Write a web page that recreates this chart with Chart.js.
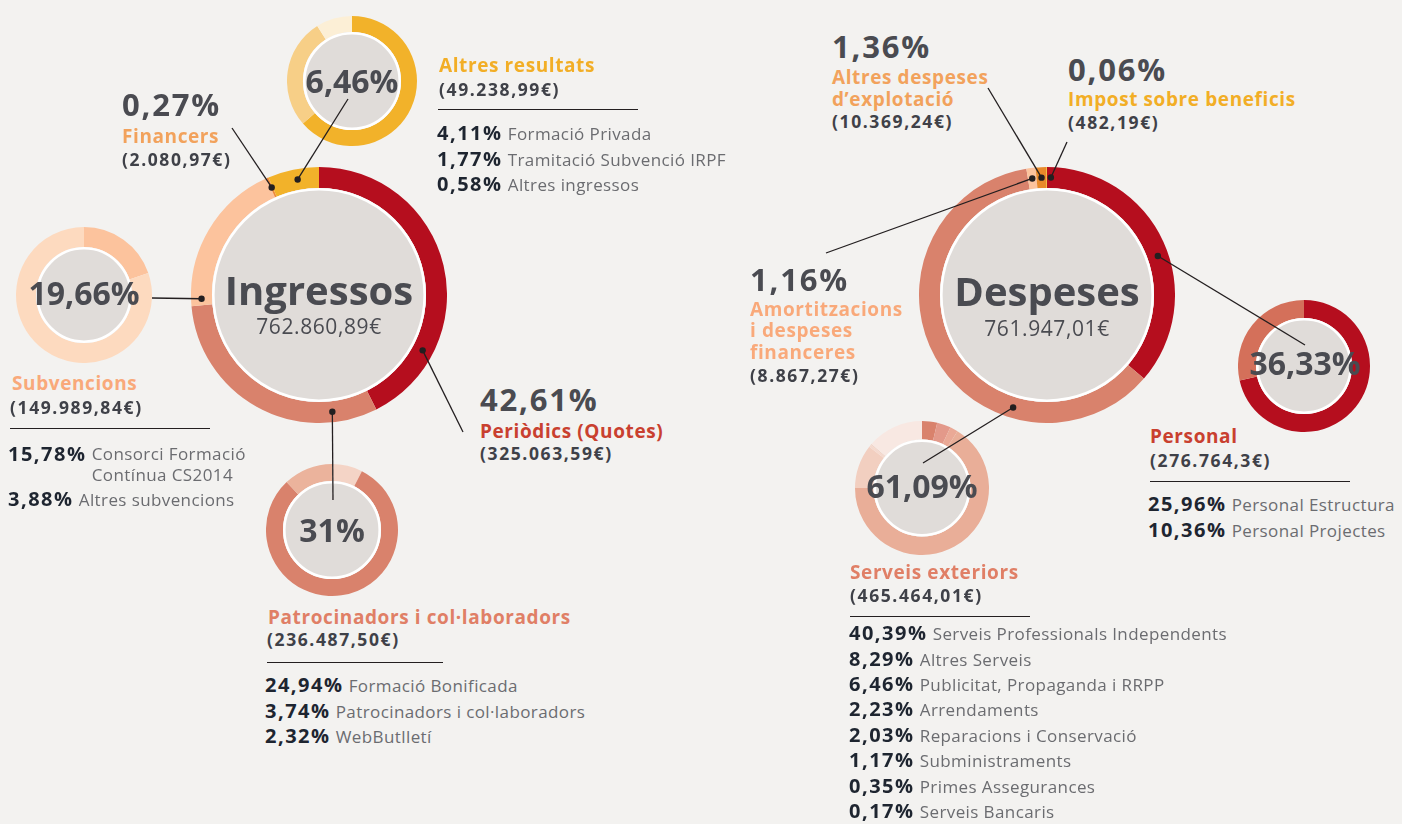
<!DOCTYPE html>
<html>
<head>
<meta charset="utf-8">
<title>Ingressos i despeses</title>
<script src="https://cdn.jsdelivr.net/npm/chart.js@4.4.1/dist/chart.umd.min.js"></script>
<style>
  html, body { margin: 0; padding: 0; background: #f3f2f0; }
  #stage { position: relative; width: 1402px; height: 824px; overflow: hidden; background: #f3f2f0;
           font-family: "Open Sans", "DejaVu Sans", sans-serif; }
  .t { position: absolute; white-space: nowrap; line-height: 1; }
  .t b { color: #1e2530; font-weight: 700; letter-spacing: 1.5px; }
  .t .lbl { font-size: 17px; font-weight: 400; letter-spacing: 0.4px; }
  .rule { position: absolute; height: 0; border-top: 1.3px solid #231f20; }
  #leaders { position: absolute; left: 0; top: 0; z-index: 10; pointer-events: none; }
</style>
</head>
<body>
<div id="stage"></div>
<script>
// ---- data -----------------------------------------------------------------
const incomeLabels = ['Periòdics (Quotes)', 'Patrocinadors i col·laboradors', 'Subvencions', 'Financers', 'Altres resultats'];
const incomeShares = [42.61, 31, 19.66, 0.27, 6.46];
const incomeAmounts = ['(325.063,59€)', '(236.487,50€)', '(149.989,84€)', '(2.080,97€)', '(49.238,99€)'];
const incomeTotal = '762.860,89€';

const expenseLabels = ['Personal', 'Serveis exteriors', 'Amortitzacions i despeses financeres', 'Altres despeses d’explotació', 'Impost sobre beneficis'];
const expenseShares = [36.33, 61.09, 1.16, 1.36, 0.06];
const expenseAmounts = ['(276.764,3€)', '(465.464,01€)', '(8.867,27€)', '(10.369,24€)', '(482,19€)'];
const expenseTotal = '761.947,01€';

// breakdowns (clockwise order from 12 o'clock in the small rings)
const altresLabels = ['Formació Privada', 'Tramitació Subvenció IRPF', 'Altres ingressos'];
const altresShares = [4.11, 1.77, 0.58];

const subvLabels = ['Altres subvencions', 'Consorci Formació Contínua CS2014'];
const subvShares = [3.88, 15.78];

const patroLabels = ['WebButlletí', 'Formació Bonificada', 'Patrocinadors i col·laboradors'];
const patroShares = [2.32, 24.94, 3.74];

const personalLabels = ['Personal Estructura', 'Personal Projectes'];
const personalShares = [25.96, 10.36];

const serveisLabels = ['Arrendaments', 'Reparacions i Conservació', 'Subministraments', 'Serveis Professionals Independents',
                       'Publicitat, Propaganda i RRPP', 'Primes Assegurances', 'Serveis Bancaris', 'Altres Serveis'];
const serveisShares = [2.23, 2.03, 1.17, 40.39, 6.46, 0.35, 0.17, 8.29];
// order used in the printed list under "Serveis exteriors"
const serveisListOrder = [3, 7, 4, 0, 1, 2, 5, 6];

// ---- helpers --------------------------------------------------------------
const stage = document.getElementById('stage');
const pct = v => v.toFixed(2).replace(/\.?0+$/, '').replace('.', ',') + '%';
const pct2 = v => v.toFixed(2).replace('.', ',') + '%';

// Open Sans: ascent 1.069em, descent 0.293em. With line-height L the first
// baseline sits (L - 1.362F)/2 + 1.069F below the top of the box.
function text(x, baseline, size, weight, color, html, align, spacing, lineH) {
    const L = lineH || size;
    const d = document.createElement('div');
    d.className = 't';
    d.style.fontSize = size + 'px';
    d.style.fontWeight = weight;
    d.style.color = color;
    d.style.lineHeight = L + 'px';
    if (spacing) d.style.letterSpacing = spacing + 'px';
    d.style.top = (baseline - ((L - 1.362 * size) / 2 + 1.069 * size)) + 'px';
    if (align === 'center') {
        d.style.left = (x - 150) + 'px';
        d.style.width = '300px';
        d.style.textAlign = 'center';
    } else {
        d.style.left = x + 'px';
    }
    d.innerHTML = html;
    stage.appendChild(d);
    return d;
}
const heading = (x, b, color, s, lineH) => text(x, b, 19, 700, color, s, null, 0.6, lineH);
const amount = (x, b, s) => text(x, b, 17.5, 700, '#3f4148', s, null, 1.6);
const bigPct = (x, b, v) => text(x, b, 31, 700, '#4a4b51', pct(v), null, 1.8);

function rule(x1, x2, y) {
    const d = document.createElement('div');
    d.className = 'rule';
    d.style.left = x1 + 'px';
    d.style.width = (x2 - x1) + 'px';
    d.style.top = y + 'px';
    stage.appendChild(d);
}
function listLine(x, baseline, share, label) {
    return text(x, baseline, 20, 700, '#6b6c70',
        '<b>' + pct2(share) + '</b> <span class="lbl">' + label + '</span>');
}

// grey disc with a white rim inside every ring
const centerDisc = {
    id: 'centerDisc',
    afterDatasetsDraw(chart) {
        const arc = chart.getDatasetMeta(0).data[0];
        if (!arc) return;
        const { x, y, innerRadius } = arc.getProps(['x', 'y', 'innerRadius'], true);
        const ctx = chart.ctx;
        ctx.save();
        ctx.beginPath();
        ctx.arc(x, y, innerRadius, 0, Math.PI * 2);
        ctx.fillStyle = '#e0dcd9';
        ctx.fill();
        ctx.beginPath();
        ctx.arc(x, y, innerRadius - 1.3, 0, Math.PI * 2);
        ctx.lineWidth = 2.6;
        ctx.strokeStyle = '#ffffff';
        ctx.stroke();
        ctx.restore();
    }
};

function donut(cx, cy, R, inner, labels, values, colors) {
    const wrap = document.createElement('div');
    wrap.style.cssText = `position:absolute;left:${cx - R}px;top:${cy - R}px;width:${2 * R}px;height:${2 * R}px`;
    const canvas = document.createElement('canvas');
    canvas.width = 2 * R;
    canvas.height = 2 * R;
    wrap.appendChild(canvas);
    stage.appendChild(wrap);
    const chart = new Chart(canvas, {
        type: 'doughnut',
        data: { labels, datasets: [{ data: values, backgroundColor: colors, borderWidth: 0, hoverOffset: 0 }] },
        options: {
            responsive: false,
            animation: false,
            devicePixelRatio: 1,
            cutout: (inner / R * 100) + '%',
            layout: { padding: 0 },
            events: [],
            plugins: { legend: { display: false }, tooltip: { enabled: false } },
        },
        plugins: [centerDisc],
    });
    chart._left = cx - R;
    chart._top = cy - R;
    return chart;
}

// ---- rings ----------------------------------------------------------------
const RED = '#b50e1e', SALMON = '#d9826c', PEACH = '#fcc39d';

const incomeChart = donut(319, 295, 128, 107, incomeLabels, incomeShares,
    [RED, SALMON, PEACH, '#f08a3c', '#f2b22a']);
const expenseChart = donut(1047, 295, 128, 107, expenseLabels, expenseShares,
    [RED, SALMON, PEACH, '#e8892a', '#f7c600']);

const altresChart = donut(352, 81, 65, 49, altresLabels, altresShares, ['#f2b22a', '#f7cf87', '#fcefd6']);
const subvChart = donut(84, 295, 68, 48, subvLabels, subvShares, ['#fcc39d', '#fddabf']);
const patroChart = donut(332, 530, 66, 49, patroLabels, patroShares, ['#f4d4c6', SALMON, '#ebb39c']);
const personalChart = donut(1304, 366, 66, 48, personalLabels, personalShares, [RED, '#d4705a']);
const serveisChart = donut(922, 488, 67, 48.5, serveisLabels, serveisShares,
    ['#d9826c', '#e3998a', '#eaa996', '#e9ae98', '#f2cfc0', '#f5d9ce', '#f0d2c5', '#f8e8e2']);

// ---- centre texts ---------------------------------------------------------
const DARK = '#4a4b51';
text(319, 306, 40, 700, DARK, 'Ingressos', 'center');
text(319, 335, 21, 400, DARK, incomeTotal, 'center', 0.6);
text(1047, 307, 40, 700, DARK, 'Despeses', 'center');
text(1047, 337, 21, 400, DARK, expenseTotal, 'center', 0.6);

// ring centres show the parent share
text(352, 93, 32, 700, DARK, pct(incomeShares[4]), 'center');
text(84, 305, 32, 700, DARK, pct(incomeShares[2]), 'center');
text(332, 542, 32, 700, DARK, pct(incomeShares[1]), 'center');
text(922, 498, 32, 700, DARK, pct(expenseShares[1]), 'center');
text(1305, 375, 32, 700, DARK, pct(expenseShares[0]), 'center');

// ---- labels: Ingressos ----------------------------------------------------
bigPct(122, 117, incomeShares[3]);
heading(122, 144, '#f2a25c', incomeLabels[3]);
amount(122, 167, incomeAmounts[3]);

heading(439, 73, '#f2ae26', incomeLabels[4]);
amount(439, 97, incomeAmounts[4]);
rule(438, 638, 109);
altresLabels.forEach((l, i) => listLine(437, 141 + i * 25.5, altresShares[i], l));

heading(12, 391, '#f9a97a', incomeLabels[2]);
amount(10, 415, incomeAmounts[2]);
rule(10, 210, 428);
// two-line label: second line hangs under the first word of the label
text(8, 461, 20, 700, '#6b6c70',
    '<b>' + pct2(subvShares[1]) + '</b> <span class="lbl" style="display:inline-block;vertical-align:top;line-height:21px;white-space:normal;width:170px">Consorci Formació Contínua CS2014</span>',
    null, 0, 21);
listLine(8, 507, subvShares[0], subvLabels[0]);

heading(268, 625, '#e07f66', incomeLabels[1]);
amount(267, 647, incomeAmounts[1]);
rule(267, 443, 662);
[1, 2, 0].forEach((k, i) => listLine(265, 693 + i * 25.5, patroShares[k], patroLabels[k]));

bigPct(480, 412, incomeShares[0]);
heading(480, 439, '#c9402f', incomeLabels[0]);
amount(480, 461, incomeAmounts[0]);

// ---- labels: Despeses -----------------------------------------------------
bigPct(832, 59, expenseShares[3]);
heading(832, 84, '#f2a25c', 'Altres despeses<br>d’explotació', 22);
amount(832, 129, expenseAmounts[3]);

bigPct(1068, 82, expenseShares[4]);
heading(1068, 107, '#f2ae26', expenseLabels[4]);
amount(1068, 130, expenseAmounts[4]);

bigPct(750, 292, expenseShares[2]);
heading(750, 317, '#f9a97a', 'Amortitzacions<br>i despeses<br>financeres', 21.5);
amount(750, 383, expenseAmounts[2]);

heading(1150, 444, '#c9402f', expenseLabels[0]);
amount(1150, 468, expenseAmounts[0]);
rule(1150, 1350, 481);
personalLabels.forEach((l, i) => listLine(1148, 512 + i * 25.5, personalShares[i], l));

heading(850, 580, '#e07f66', expenseLabels[1]);
amount(850, 603, expenseAmounts[1]);
rule(850, 1030, 616);
serveisListOrder.forEach((k, i) => listLine(849, 641 + i * 25.4, serveisShares[k], serveisLabels[k]));

// ---- leader lines (start on the ring, at a point along the segment) -------
const leaders = [
    { chart: incomeChart, idx: 0, frac: 0.77, to: [463, 432] },
    { chart: incomeChart, idx: 1, frac: 0.18, to: [333, 500] },
    { chart: incomeChart, idx: 2, frac: 0.045, to: [152, 298] },
    { chart: incomeChart, idx: 3, frac: 0.5, to: [232, 128] },
    { chart: incomeChart, idx: 4, frac: 0.55, to: [348, 99] },
    { chart: expenseChart, idx: 0, frac: 0.54, to: [1305, 345] },
    { chart: expenseChart, idx: 1, frac: 0.30, to: [923, 463] },
    { chart: expenseChart, idx: 2, frac: 0.5, to: [826, 253] },
    { chart: expenseChart, idx: 3, frac: 0.5, to: [988, 88] },
    { chart: expenseChart, idx: 4, frac: 0.5, to: [1067, 142], nudge: 2 },
];

const NS = 'http://www.w3.org/2000/svg';
const svg = document.createElementNS(NS, 'svg');
svg.setAttribute('id', 'leaders');
svg.setAttribute('width', 1402);
svg.setAttribute('height', 824);
stage.appendChild(svg);

leaders.forEach(L => {
    const el = L.chart.getDatasetMeta(0).data[L.idx];
    const p = el.getProps(['x', 'y', 'startAngle', 'endAngle', 'innerRadius', 'outerRadius'], true);
    const a = p.startAngle + (p.endAngle - p.startAngle) * L.frac + (L.nudge || 0) * Math.PI / 180;
    const r = (p.innerRadius + p.outerRadius) / 2;
    const x = L.chart._left + p.x + Math.cos(a) * r;
    const y = L.chart._top + p.y + Math.sin(a) * r;
    const line = document.createElementNS(NS, 'line');
    line.setAttribute('x1', x); line.setAttribute('y1', y);
    line.setAttribute('x2', L.to[0]); line.setAttribute('y2', L.to[1]);
    line.setAttribute('stroke', '#231f20');
    line.setAttribute('stroke-width', 1.3);
    svg.appendChild(line);
    const dot = document.createElementNS(NS, 'circle');
    dot.setAttribute('cx', x); dot.setAttribute('cy', y); dot.setAttribute('r', 3.2);
    dot.setAttribute('fill', '#231f20');
    svg.appendChild(dot);
});
</script>
</body>
</html>
